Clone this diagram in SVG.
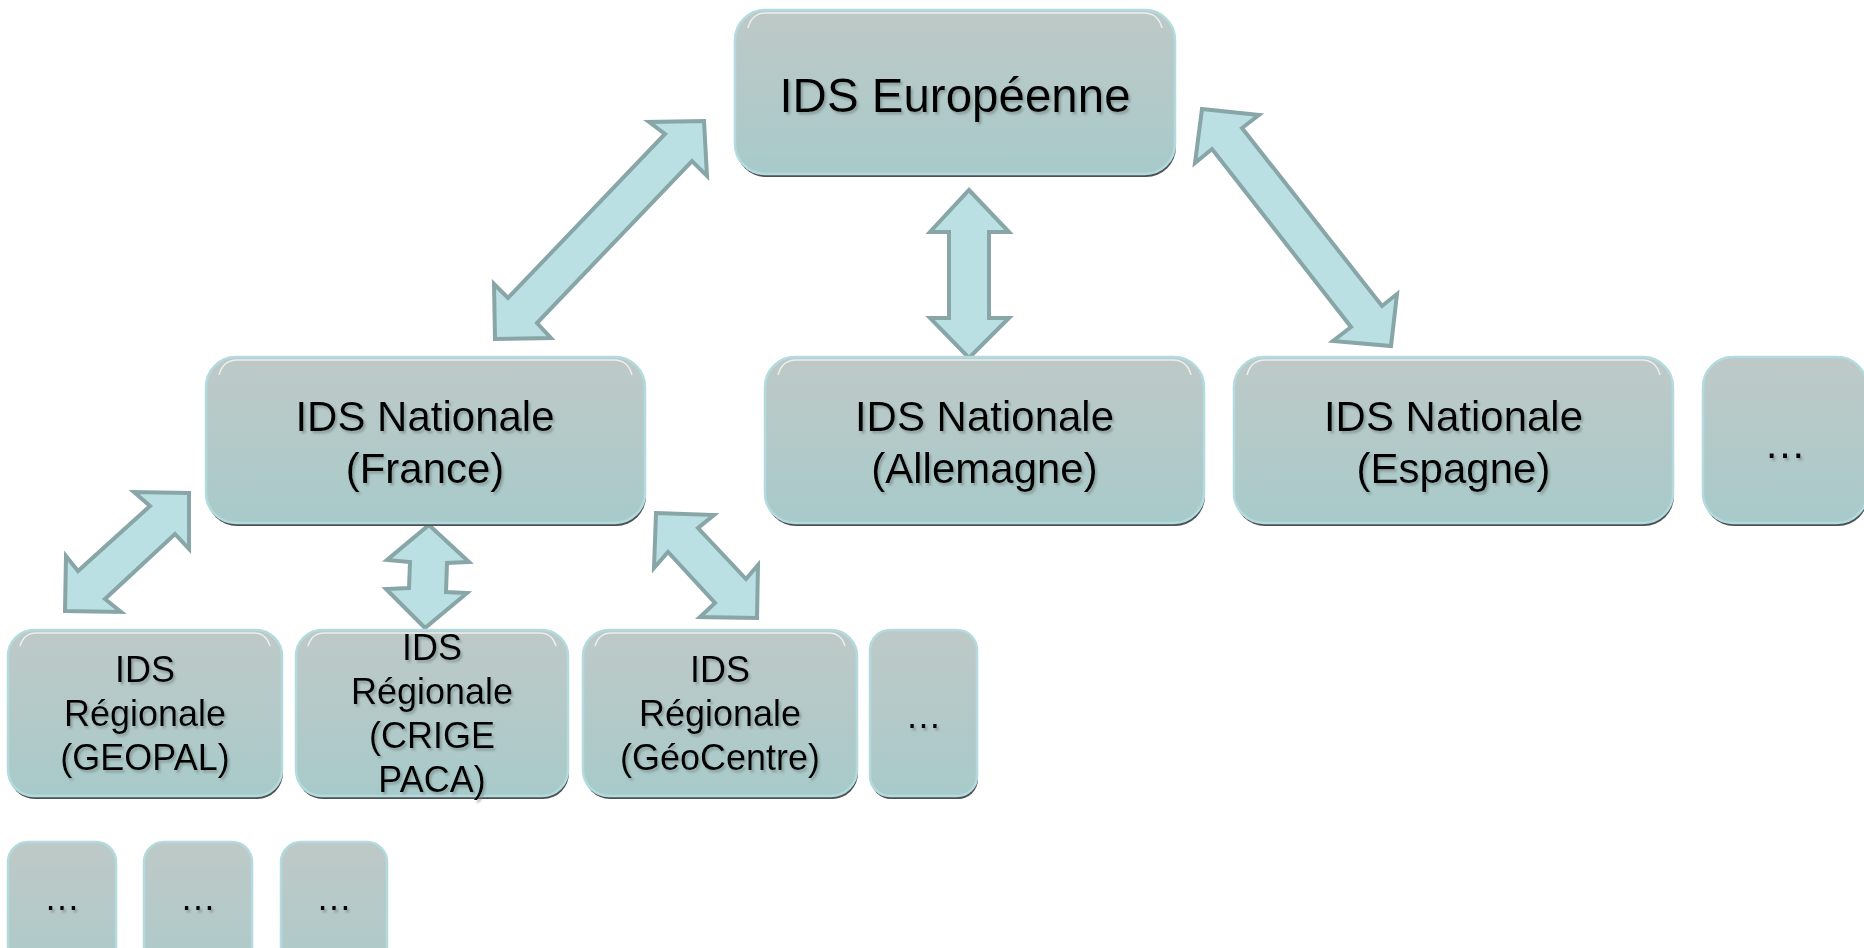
<svg xmlns="http://www.w3.org/2000/svg" width="1864" height="948" viewBox="0 0 1864 948">
<defs>
<linearGradient id="g" x1="0" y1="0" x2="0" y2="1">
<stop offset="0" stop-color="#BEC9C7"/>
<stop offset="1" stop-color="#A8CACA"/>
</linearGradient>
<filter id="ts" x="-10%" y="-20%" width="120%" height="150%">
<feDropShadow dx="2" dy="2.5" stdDeviation="1" flood-color="#6f8584" flood-opacity="0.6"/>
</filter>
</defs>
<style>
.sh{fill:#4e5152}
.bx{fill:url(#g);stroke:#B3DBDF;stroke-width:2.5}
.hl{fill:none;stroke:#ffffff;stroke-opacity:0.7;stroke-width:1.5}
.t{font-family:"Liberation Sans",Arial,sans-serif;fill:#000;text-anchor:middle;filter:url(#ts)}
.ar{fill:#BAE0E3;stroke:#88A5A7;stroke-width:4;stroke-linejoin:miter}
</style>

<g id="connectors">
<polygon class="ar" points="704,121 707,176 692,161 537,323 551,338 495,339 494,284 508,298 665,134 649,122"/>
<polygon class="ar" points="969,190 1009,232 989,232 989,318 1009,318 969,358 930,318 949,318 949,232 930,232"/>
<polygon class="ar" points="1202,109 1259,115 1242,128 1382,306 1397,294 1391,346 1333,341 1351,327 1212,149 1195,163"/>
<polygon class="ar" points="189,493 189,549 175,534 105,599 121,612 65,611 66,556 78,571 150,506 134,492"/>
<polygon class="ar" points="429,525 469,562 447,563 446,592 467,593 425,628 386,589 409,588 410,562 387,560"/>
<polygon class="ar" points="656,513 714,515 698,528 746,579 758,565 757,618 700,617 715,603 668,552 654,568"/>
</g>

<g id="n-europe">
<rect class="sh" x="736" y="13" width="440" height="164" rx="30"/>
<rect class="bx" x="735" y="10" width="440" height="164" rx="30"/>
<path class="hl" d="M748,28 Q752,13 766,13 L1144,13 Q1158,13 1162,28"/>
<text class="t" x="955" y="112" font-size="47.5">IDS Européenne</text>
</g>

<g id="n-france">
<rect class="sh" x="207" y="360" width="439" height="166" rx="30"/>
<rect class="bx" x="206" y="357" width="439" height="166" rx="30"/>
<path class="hl" d="M219,375 Q223,360 237,360 L614,360 Q628,360 632,375"/>
<text class="t" x="425" y="431" font-size="42">IDS Nationale</text>
<text class="t" x="425" y="483" font-size="42">(France)</text>
</g>

<g id="n-allemagne">
<rect class="sh" x="766" y="360" width="439" height="166" rx="30"/>
<rect class="bx" x="765" y="357" width="439" height="166" rx="30"/>
<path class="hl" d="M778,375 Q782,360 796,360 L1173,360 Q1187,360 1191,375"/>
<text class="t" x="984.5" y="431" font-size="42">IDS Nationale</text>
<text class="t" x="984.5" y="483" font-size="42">(Allemagne)</text>
</g>

<g id="n-espagne">
<rect class="sh" x="1235" y="360" width="439" height="166" rx="30"/>
<rect class="bx" x="1234" y="357" width="439" height="166" rx="30"/>
<path class="hl" d="M1247,375 Q1251,360 1265,360 L1642,360 Q1656,360 1660,375"/>
<text class="t" x="1453.5" y="431" font-size="42">IDS Nationale</text>
<text class="t" x="1453.5" y="483" font-size="42">(Espagne)</text>
</g>

<g id="n-national-more">
<rect class="sh" x="1704" y="360" width="164" height="166" rx="30"/>
<rect class="bx" x="1703" y="357" width="164" height="166" rx="30"/>
<text class="t" x="1785" y="458" font-size="42">…</text>
</g>

<g id="n-geopal">
<rect class="sh" x="9" y="633" width="274" height="166" rx="26"/>
<rect class="bx" x="8" y="630" width="274" height="166" rx="26"/>
<path class="hl" d="M20,646 Q24,633 36,633 L254,633 Q266,633 270,646"/>
<text class="t" x="145" y="682" font-size="36">IDS</text>
<text class="t" x="145" y="726" font-size="36">Régionale</text>
<text class="t" x="145" y="770" font-size="36">(GEOPAL)</text>
</g>

<g id="n-crige">
<rect class="sh" x="297" y="633" width="272" height="166" rx="26"/>
<rect class="bx" x="296" y="630" width="272" height="166" rx="26"/>
<path class="hl" d="M308,646 Q312,633 324,633 L540,633 Q552,633 556,646"/>
<text class="t" x="432" y="660" font-size="36">IDS</text>
<text class="t" x="432" y="704" font-size="36">Régionale</text>
<text class="t" x="432" y="748" font-size="36">(CRIGE</text>
<text class="t" x="432" y="792" font-size="36">PACA)</text>
</g>

<g id="n-geocentre">
<rect class="sh" x="584" y="633" width="274" height="166" rx="26"/>
<rect class="bx" x="583" y="630" width="274" height="166" rx="26"/>
<path class="hl" d="M595,646 Q599,633 611,633 L829,633 Q841,633 845,646"/>
<text class="t" x="720" y="682" font-size="36">IDS</text>
<text class="t" x="720" y="726" font-size="36">Régionale</text>
<text class="t" x="720" y="770" font-size="36">(GéoCentre)</text>
</g>

<g id="n-regional-more">
<rect class="sh" x="871" y="633" width="107" height="166" rx="20"/>
<rect class="bx" x="870" y="630" width="107" height="166" rx="20"/>
<text class="t" x="923.5" y="728" font-size="36">…</text>
</g>

<g id="n-local-1">
<rect class="sh" x="9" y="845" width="108" height="166" rx="20"/>
<rect class="bx" x="8" y="842" width="108" height="166" rx="20"/>
<text class="t" x="62" y="910" font-size="36">…</text>
</g>

<g id="n-local-2">
<rect class="sh" x="145" y="845" width="108" height="166" rx="20"/>
<rect class="bx" x="144" y="842" width="108" height="166" rx="20"/>
<text class="t" x="198" y="910" font-size="36">…</text>
</g>

<g id="n-local-3">
<rect class="sh" x="282" y="845" width="106" height="166" rx="20"/>
<rect class="bx" x="281" y="842" width="106" height="166" rx="20"/>
<text class="t" x="334" y="910" font-size="36">…</text>
</g>
</svg>
